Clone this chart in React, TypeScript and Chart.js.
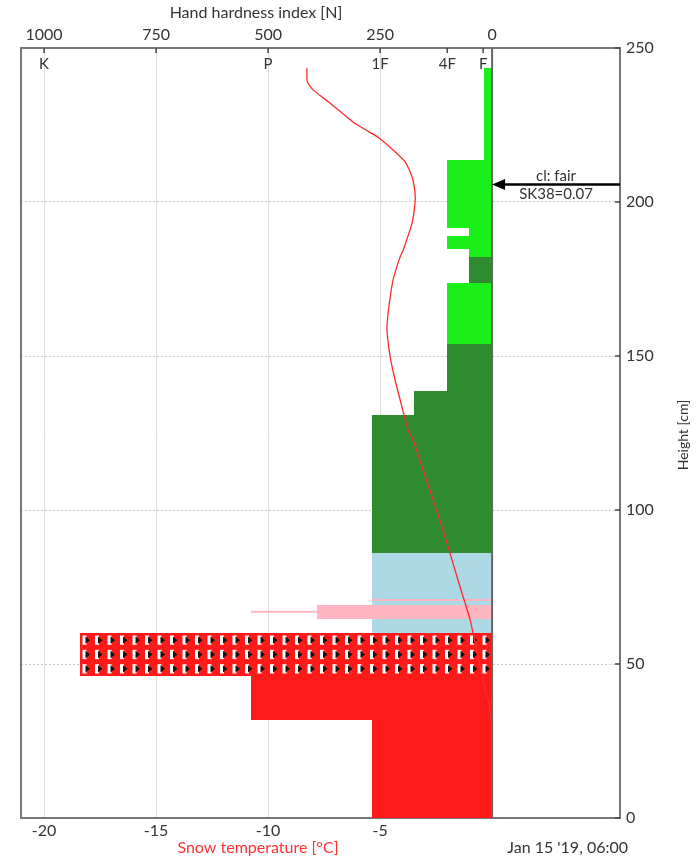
import React, { useEffect, useRef } from 'react';
import { Chart, registerables } from 'chart.js';

Chart.register(...registerables);

// ---- data ----
const tempHeights = [243.4, 239.1, 236.4, 232.1, 226.0, 222.6, 220.8, 216.9, 213.0, 208.1, 202.9, 199.7, 193.2, 184.4, 182.1, 174.7, 164.0, 158.4, 149.7, 142.2, 133.4, 126.0, 122.7, 113.0, 103.2, 93.5, 86.0, 75.0, 64.3, 53.6, 44.8, 35.1, 27.6, 0];
const tempValues = [-8.27, -8.25, -7.99, -7.23, -6.21, -5.45, -5.05, -4.42, -3.88, -3.57, -3.44, -3.44, -3.57, -3.97, -4.11, -4.42, -4.64, -4.69, -4.55, -4.33, -4.02, -3.75, -3.53, -3.08, -2.63, -2.19, -1.88, -1.43, -0.98, -0.67, -0.40, -0.09, 0, 0];

const layerBottoms = [0, 31.8, 46, 60, 86, 130.8, 138.5, 153.9, 173.8, 182.2, 184.6, 189.0, 191.6, 213.6, 64.6, 70.4];
const layerTops = [31.8, 46, 60, 86, 130.8, 138.5, 153.9, 173.8, 182.2, 184.6, 189.0, 191.6, 213.6, 243.4, 69.2, 71.0];
const layerHardness = [268, 538, 920, 268, 268, 174, 100, 100, 51, 51, 100, 51, 100, 18, 391, 268];
const layerGrains = ['MF', 'MF', 'MFcr', 'FC', 'DF', 'DF', 'DF', 'PP', 'DF', 'PP', 'PP', 'PP', 'PP', 'PP', 'RG', 'RG'];

const whiskerHeights = [67];
const whiskerHardMin = [391];
const whiskerHardMax = [538];

const tempTicks = [-20, -15, -10, -5, 0];
const hardnessTicks = [1000, 750, 500, 250, 0];
const heightTicks = [0, 50, 100, 150, 200, 250];
const hardnessCodes = ['K', 'P', '1F', '4F', 'F'];
const hardnessCodeValues = [1000, 500, 250, 100, 20];
const hardnessMarkValues = [1000, 750, 500, 250, 100, 20];

const stabilityHeight = 205.7;
const stabilityLines = ['cl: fair', 'SK38=0.07'];
const dateLabel = "Jan 15 '19, 06:00";

const T_MIN = -21.03;
const T_MAX = 5.71;
const HH_PER_DEG = 50;

// ---- styles ----
const grainColors: Record<string, string> = {
  PP: '#1aef1a',
  DF: '#2f8b2f',
  FC: '#add8e6',
  RG: '#ffb6c1',
  MF: '#ff1a1a',
  MFcr: '#ff1a1a',
};
const FONT = 'Lato, "Open Sans", sans-serif';
const TEXT = '#333333';
const AXIS = '#777777';

function drawCrustPattern(ctx: CanvasRenderingContext2D, x: number, y: number, w: number, h: number) {
  ctx.save();
  ctx.beginPath();
  ctx.rect(x, y, w, h);
  ctx.clip();
  const cw = 12.5;
  const rows = 3;
  const rh = h / rows;
  for (let cx = x + 2.5; cx < x + w; cx += cw) {
    for (let r = 0; r < rows; r++) {
      const cy = y + r * rh + 2.5;
      const sh = rh - 5;
      ctx.fillStyle = '#ffffff';
      ctx.fillRect(cx, cy, 4, sh);
      ctx.fillStyle = '#111111';
      ctx.beginPath();
      ctx.moveTo(cx + 3, cy + 1);
      ctx.lineTo(cx + 7.5, cy + sh / 2);
      ctx.lineTo(cx + 3, cy + sh - 1);
      ctx.closePath();
      ctx.fill();
    }
  }
  ctx.restore();
}

const profilePlugin = {
  id: 'profile',
  beforeDatasetsDraw(chart: any) {
    const { ctx, chartArea, scales } = chart;
    const hx = scales.x2;
    const ys = scales.y;
    const x0 = Math.round(hx.getPixelForValue(0));
    ctx.save();
    ctx.beginPath();
    ctx.rect(chartArea.left, chartArea.top, chartArea.right - chartArea.left, chartArea.bottom - chartArea.top);
    ctx.clip();
    layerBottoms.forEach((b, i) => {
      const left = Math.round(hx.getPixelForValue(layerHardness[i]));
      const top = Math.round(ys.getPixelForValue(layerTops[i]));
      const bot = Math.round(ys.getPixelForValue(b));
      const g = layerGrains[i];
      ctx.fillStyle = grainColors[g];
      ctx.fillRect(left, top, x0 - left, bot - top);
      if (g === 'MFcr') drawCrustPattern(ctx, left, top, x0 - left, bot - top);
    });
    whiskerHeights.forEach((hgt, i) => {
      const yy = ys.getPixelForValue(hgt);
      ctx.strokeStyle = grainColors.RG;
      ctx.lineWidth = 2;
      ctx.beginPath();
      ctx.moveTo(hx.getPixelForValue(whiskerHardMax[i]), yy);
      ctx.lineTo(hx.getPixelForValue(whiskerHardMin[i]), yy);
      ctx.stroke();
    });
    ctx.restore();
  },
  afterDatasetsDraw(chart: any) {
    const { ctx, chartArea, scales } = chart;
    const hx = scales.x2;
    const ys = scales.y;
    const x0 = hx.getPixelForValue(0);
    ctx.save();
    // zero line
    ctx.strokeStyle = '#666666';
    ctx.lineWidth = 2;
    ctx.beginPath();
    ctx.moveTo(x0, chartArea.top);
    ctx.lineTo(x0, chartArea.bottom);
    ctx.stroke();

    // inward tick marks on top axis
    ctx.strokeStyle = '#444444';
    ctx.lineWidth = 1.5;
    hardnessMarkValues.forEach((v) => {
      const px = hx.getPixelForValue(v);
      ctx.beginPath();
      ctx.moveTo(px, chartArea.top);
      ctx.lineTo(px, chartArea.top + 5);
      ctx.stroke();
    });
    // inward tick marks on right axis
    heightTicks.forEach((v) => {
      const py = ys.getPixelForValue(v);
      ctx.beginPath();
      ctx.moveTo(chartArea.right - 5, py);
      ctx.lineTo(chartArea.right, py);
      ctx.stroke();
    });

    // hardness codes
    ctx.fillStyle = TEXT;
    ctx.font = `15px ${FONT}`;
    ctx.textAlign = 'center';
    ctx.textBaseline = 'middle';
    hardnessCodes.forEach((c, i) => {
      ctx.fillText(c, hx.getPixelForValue(hardnessCodeValues[i]), chartArea.top + 16);
    });

    // stability arrow
    const ya = ys.getPixelForValue(stabilityHeight);
    ctx.strokeStyle = '#000000';
    ctx.fillStyle = '#000000';
    ctx.lineWidth = 2.5;
    ctx.beginPath();
    ctx.moveTo(chartArea.right, ya);
    ctx.lineTo(x0 + 10, ya);
    ctx.stroke();
    ctx.beginPath();
    ctx.moveTo(x0, ya);
    ctx.lineTo(x0 + 13, ya - 5.5);
    ctx.lineTo(x0 + 13, ya + 5.5);
    ctx.closePath();
    ctx.fill();
    ctx.font = `15px ${FONT}`;
    ctx.fillStyle = TEXT;
    const cx = (x0 + chartArea.right) / 2;
    ctx.fillText(stabilityLines[0], cx, ya - 8);
    ctx.fillText(stabilityLines[1], cx, ya + 10);

    // titles
    ctx.font = `16px ${FONT}`;
    ctx.fillStyle = TEXT;
    ctx.fillText('Hand hardness index [N]', 256, 13);
    ctx.fillStyle = '#ff3333';
    ctx.fillText('Snow temperature [°C]', 258, 848);
    ctx.fillStyle = TEXT;
    ctx.textAlign = 'right';
    ctx.fillText(dateLabel, 628, 848);

    ctx.save();
    ctx.translate(683, 435);
    ctx.rotate(-Math.PI / 2);
    ctx.textAlign = 'center';
    ctx.font = `14px ${FONT}`;
    ctx.fillText('Height [cm]', 0, 0);
    ctx.restore();

    ctx.restore();
  },
};

export default function App() {
  const ref = useRef<HTMLCanvasElement | null>(null);
  useEffect(() => {
    if (!ref.current) return;
    const chart = new Chart(ref.current, {
      type: 'scatter',
      data: {
        datasets: [
          {
            data: tempValues.map((t, i) => ({ x: t, y: tempHeights[i] })),
            showLine: true,
            borderColor: '#ff2a2a',
            borderWidth: 1.3,
            pointRadius: 0,
            tension: 0.2,
            xAxisID: 'x',
            yAxisID: 'y',
          } as any,
        ],
      },
      options: {
        animation: false,
        responsive: false,
        devicePixelRatio: 1,
        layout: { padding: 0 },
        plugins: { legend: { display: false }, tooltip: { enabled: false } },
        scales: {
          x: {
            type: 'linear',
            position: 'bottom',
            min: T_MIN,
            max: T_MAX,
            afterBuildTicks: (s: any) => {
              s.ticks = tempTicks.map((v) => ({ value: v }));
            },
            afterFit: (s: any) => {
              s.height = 39;
            },
            ticks: {
              callback: (v: any) => (v === 0 ? '' : String(v)),
              font: { family: FONT, size: 16 },
              color: TEXT,
              padding: 3,
              maxRotation: 0,
              autoSkip: false,
            },
            grid: { color: '#dddddd', lineWidth: 1, drawTicks: false },
            border: { color: AXIS, width: 2 },
          },
          x2: {
            type: 'linear',
            position: 'top',
            reverse: true,
            min: -T_MAX * HH_PER_DEG,
            max: -T_MIN * HH_PER_DEG,
            afterBuildTicks: (s: any) => {
              s.ticks = hardnessTicks.map((v) => ({ value: v }));
            },
            afterFit: (s: any) => {
              s.height = 48;
            },
            ticks: {
              callback: (v: any) => String(v),
              font: { family: FONT, size: 16 },
              color: TEXT,
              padding: 4,
              maxRotation: 0,
              autoSkip: false,
            },
            grid: { display: false, drawTicks: false },
            border: { color: AXIS, width: 2 },
          },
          y: {
            type: 'linear',
            position: 'right',
            min: 0,
            max: 250,
            afterBuildTicks: (s: any) => {
              s.ticks = heightTicks.map((v) => ({ value: v }));
            },
            afterFit: (s: any) => {
              s.width = 80;
            },
            ticks: {
              font: { family: FONT, size: 16 },
              color: TEXT,
              padding: 6,
              autoSkip: false,
            },
            grid: { color: '#cccccc', lineWidth: 1, drawTicks: false },
            border: { color: AXIS, width: 2, dash: [2, 2] },
          },
          yl: {
            type: 'linear',
            position: 'left',
            min: 0,
            max: 250,
            afterFit: (s: any) => {
              s.width = 21;
            },
            ticks: { display: false },
            grid: { display: false, drawTicks: false },
            border: { color: AXIS, width: 2 },
          },
        },
      } as any,
      plugins: [profilePlugin],
    });
    return () => chart.destroy();
  }, []);
  return (
    <div style={{ position: 'absolute', left: 0, top: 0, width: 700, height: 857 }}>
      <canvas ref={ref} width={700} height={857} />
    </div>
  );
}
